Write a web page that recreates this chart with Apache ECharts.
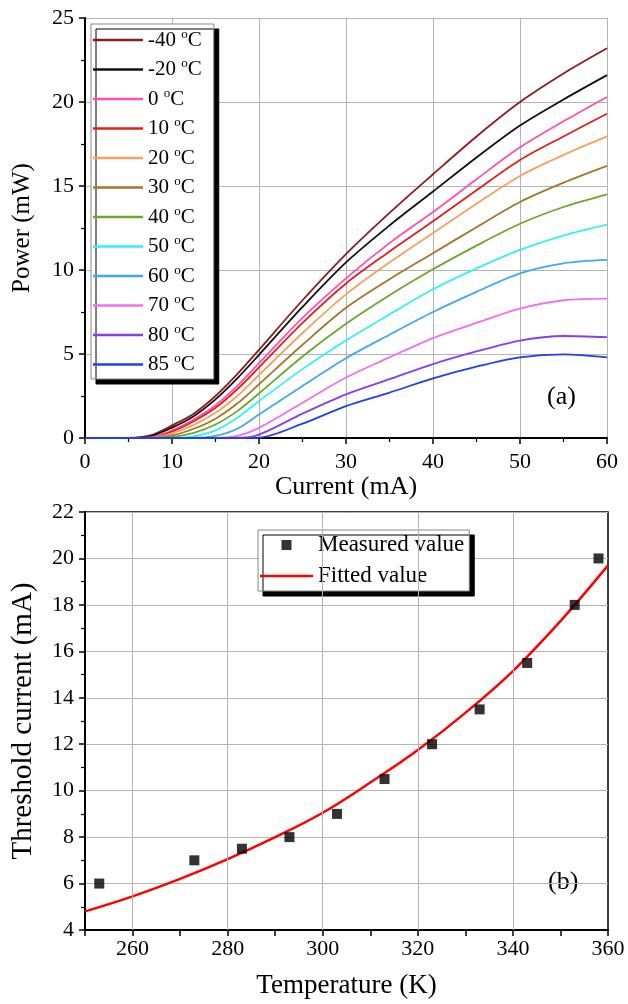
<!DOCTYPE html>
<html><head><meta charset="utf-8">
<script src="https://cdn.jsdelivr.net/npm/echarts/dist/echarts.min.js"></script>
<style>html,body{margin:0;padding:0;background:#fff}#c{width:628px;height:1004px}</style>
</head><body><div id="c"></div>
<script>
/* Panel (a) data */
var currentMA = [0, 5, 7.5, 10, 12.5, 15, 17.5, 20, 25, 30, 35, 40, 45, 50, 55, 60];
var DEG = '\u00B0C';
var tempLabels = ['-40', '-20', '0', '10', '20', '30', '40', '50', '60', '70', '80', '85'];
var power_m40 = [0, 0, 0.15, 0.75, 1.45, 2.5, 3.8, 5.25, 8.2, 10.95, 13.4, 15.7, 17.95, 20.0, 21.7, 23.2];
var power_m20 = [0, 0, 0.1, 0.62, 1.3, 2.3, 3.55, 4.95, 7.8, 10.45, 12.65, 14.67, 16.7, 18.6, 20.15, 21.6];
var power_0   = [0, 0, 0.03, 0.45, 1.1, 1.95, 3.1, 4.45, 7.15, 9.5, 11.6, 13.45, 15.4, 17.3, 18.85, 20.3];
var power_10  = [0, 0, 0, 0.38, 1.0, 1.8, 2.9, 4.2, 6.85, 9.2, 11.1, 12.9, 14.75, 16.55, 17.95, 19.3];
var power_20  = [0, 0, 0, 0.28, 0.78, 1.5, 2.5, 3.75, 6.25, 8.55, 10.45, 12.2, 13.95, 15.6, 16.85, 17.95];
var power_30  = [0, 0, 0, 0.15, 0.55, 1.15, 2.05, 3.2, 5.55, 7.75, 9.45, 11.0, 12.55, 14.05, 15.2, 16.2];
var power_40  = [0, 0, 0, 0.05, 0.3, 0.8, 1.6, 2.65, 4.85, 6.8, 8.5, 10.04, 11.45, 12.75, 13.75, 14.5];
var power_50  = [0, 0, 0, 0, 0.1, 0.45, 1.2, 2.2, 4.1, 5.8, 7.35, 8.85, 10.1, 11.2, 12.05, 12.7];
var power_60  = [0, 0, 0, 0, 0, 0.12, 0.55, 1.4, 3.1, 4.75, 6.15, 7.5, 8.7, 9.8, 10.4, 10.6];
var power_70  = [0, 0, 0, 0, 0, 0, 0.12, 0.6, 2.1, 3.6, 4.8, 5.95, 6.85, 7.7, 8.2, 8.3];
var power_80  = [0, 0, 0, 0, 0, 0, 0, 0.2, 1.45, 2.6, 3.5, 4.4, 5.15, 5.8, 6.07, 6.0];
var power_85  = [0, 0, 0, 0, 0, 0, 0, 0.02, 0.85, 1.9, 2.7, 3.55, 4.25, 4.8, 4.98, 4.8];
var powerSeries = [power_m40, power_m20, power_0, power_10, power_20, power_30, power_40, power_50, power_60, power_70, power_80, power_85];
var curveColors = ['#8e1c1c', '#111111', '#ff4fb4', '#e0201c', '#f9a15c', '#a07828', '#6aa82a', '#33f2f2', '#40a8f4', '#f070f0', '#8a3cf0', '#2040f0'];

/* Panel (b) data */
var tempK = [253, 273, 283, 293, 303, 313, 323, 333, 343, 353, 358];
var thresholdMeasured = [6, 7, 7.5, 8, 9, 10.5, 12, 13.5, 15.5, 18, 20];
var fitTempK = [250, 260, 270, 280, 290, 300, 310, 320, 330, 340, 350, 360];
var thresholdFitted = [4.8, 5.45, 6.2, 7.05, 8.0, 9.05, 10.35, 11.75, 13.35, 15.15, 17.3, 19.7];
var tempGridK = [260, 280, 300, 320, 340];

var FONT = 'Liberation Serif';
var chart = echarts.init(document.getElementById('c'));

function merge(a, b) { var o = {}, k; for (k in a) o[k] = a[k]; for (k in b) o[k] = b[k]; return o; }

var axisLabelBase = {color: '#000', fontSize: 22, fontFamily: FONT};
var axisCommon = {
  axisLine: {show: true, onZero: false, lineStyle: {color: '#000', width: 2}},
  axisTick: {show: true, inside: false, length: 6, lineStyle: {color: '#000', width: 1.5}},
  minorTick: {show: true, splitNumber: 2, length: 4, lineStyle: {color: '#000', width: 1.2}},
  axisLabel: axisLabelBase,
  splitLine: {show: true, lineStyle: {color: '#b4b4b4', width: 1}},
  nameLocation: 'middle'
};

var legendNames = tempLabels.map(function (t) { return t + ' ' + DEG; });

var seriesA = powerSeries.map(function (arr, i) {
  return {
    name: legendNames[i],
    type: 'line',
    xAxisIndex: 0, yAxisIndex: 0,
    data: currentMA.map(function (c, j) { return [c, arr[j]]; }),
    smooth: 0.3,
    showSymbol: false,
    symbol: 'none',
    lineStyle: {color: curveColors[i], width: 1.8},
    itemStyle: {color: curveColors[i]},
    z: 3
  };
});

function legendFmt(name) {
  var n = name.split(' ')[0];
  return '{t|' + n + ' }{s|o}{t|C}';
}

function xbLabel(v) { return (v % 20 === 0) ? String(v) : ''; }

var seriesB = [
  {
    name: 'Fitted value', type: 'line', xAxisIndex: 1, yAxisIndex: 1,
    data: fitTempK.map(function (t, j) { return [t, thresholdFitted[j]]; }),
    smooth: 0.4, showSymbol: false, symbol: 'none',
    lineStyle: {color: '#ff0000', width: 2.5}, itemStyle: {color: '#ff0000'},
    markLine: {
      silent: true, symbol: ['none', 'none'], label: {show: false},
      lineStyle: {color: '#b4b4b4', width: 1, type: 'solid'},
      data: tempGridK.map(function (t) { return {xAxis: t}; })
    },
    z: 3
  },
  {
    name: 'Measured value', type: 'scatter', xAxisIndex: 1, yAxisIndex: 1,
    data: tempK.map(function (t, j) { return [t, thresholdMeasured[j]]; }),
    symbol: 'rect', symbolSize: 10,
    itemStyle: {color: '#000'},
    z: 4
  }
];

var option = {
  backgroundColor: '#fff',
  animation: false,
  grid: [
    {left: 85, top: 18, width: 522, height: 420, show: false},
    {left: 85, top: 512, width: 523, height: 418, show: true, borderColor: '#000', borderWidth: 1.5, backgroundColor: 'rgba(0,0,0,0)'}
  ],
  xAxis: [
    merge(axisCommon, {
      gridIndex: 0, type: 'value', min: 0, max: 60, interval: 10,
      name: 'Current (mA)', nameGap: 32,
      nameTextStyle: {color: '#000', fontFamily: FONT, fontSize: 26},
      axisLabel: merge(axisLabelBase, {margin: 13})
    }),
    merge(axisCommon, {
      gridIndex: 1, type: 'value', min: 250, max: 360, interval: 10,
      name: 'Temperature (K)', nameGap: 42,
      nameTextStyle: {color: '#000', fontFamily: FONT, fontSize: 27},
      minorTick: {show: false},
      splitLine: {show: false},
      axisLabel: merge(axisLabelBase, {margin: 8, formatter: xbLabel})
    })
  ],
  yAxis: [
    merge(axisCommon, {
      gridIndex: 0, type: 'value', min: 0, max: 25, interval: 5,
      name: 'Power (mW)', nameGap: 50,
      nameTextStyle: {color: '#000', fontFamily: FONT, fontSize: 25},
      axisLabel: merge(axisLabelBase, {margin: 11})
    }),
    merge(axisCommon, {
      gridIndex: 1, type: 'value', min: 4, max: 22, interval: 2,
      name: 'Threshold current (mA)', nameGap: 47,
      nameTextStyle: {color: '#000', fontFamily: FONT, fontSize: 29},
      axisLabel: merge(axisLabelBase, {margin: 11})
    }),
    {
      gridIndex: 0, type: 'value', min: 0, max: 25, position: 'right',
      axisLine: {show: true, lineStyle: {color: '#000', width: 2}},
      axisTick: {show: false}, axisLabel: {show: false}, splitLine: {show: false}
    }
  ],
  legend: [
    {
      data: legendNames,
      orient: 'vertical',
      left: 91, top: 24,
      icon: 'rect',
      itemWidth: 50, itemHeight: 2.5, itemGap: 7,
      padding: [4, 12, 4, 2],
      backgroundColor: '#fff',
      borderColor: '#888', borderWidth: 1,
      shadowColor: '#000', shadowBlur: 0, shadowOffsetX: 5, shadowOffsetY: 5,
      formatter: legendFmt,
      textStyle: {
        color: '#000', fontFamily: FONT, fontSize: 21,
        rich: {
          t: {fontFamily: FONT, fontSize: 21, color: '#000', lineHeight: 24, verticalAlign: 'middle'},
          s: {fontFamily: FONT, fontSize: 13, color: '#000', lineHeight: 14, verticalAlign: 'top'}
        }
      },
      selectedMode: false
    },
    {
      data: [
        {name: 'Measured value', icon: 'path://M0,0L10,0L10,10L0,10Z'},
        {name: 'Fitted value', icon: 'path://M0,0L53,0L53,2.5L0,2.5Z'}
      ],
      orient: 'vertical',
      left: 258, top: 530,
      itemWidth: 53, itemHeight: 10, itemGap: 7,
      padding: [3, 5, 3, 2],
      backgroundColor: '#fff',
      borderColor: '#888', borderWidth: 1,
      shadowColor: '#000', shadowBlur: 0, shadowOffsetX: 5, shadowOffsetY: 5,
      textStyle: {color: '#000', fontFamily: FONT, fontSize: 23, lineHeight: 24},
      selectedMode: false
    }
  ],
  graphic: [
    {type: 'text', left: 547, top: 384, style: {text: '(a)', fontSize: 26, fontFamily: FONT, fill: '#000'}},
    {type: 'text', left: 548, top: 869, style: {text: '(b)', fontSize: 26, fontFamily: FONT, fill: '#000'}}
  ],
  series: seriesA.concat(seriesB)
};
chart.setOption(option);
</script>
</body></html>
